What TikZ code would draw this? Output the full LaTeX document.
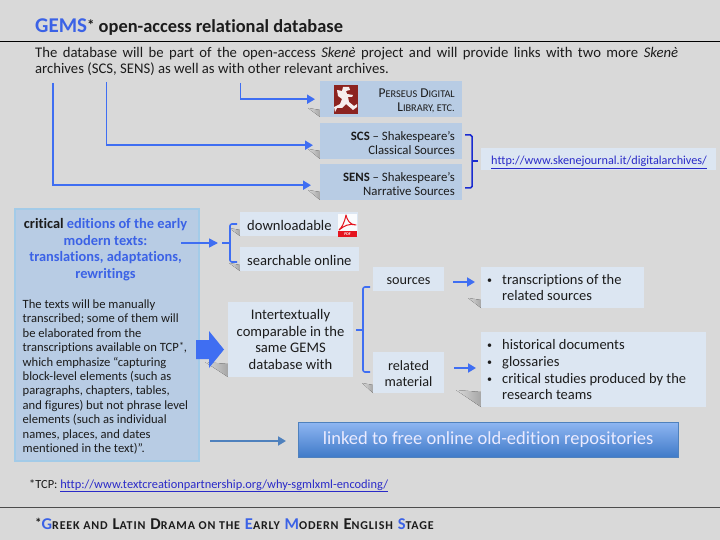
\documentclass[tikz,border=0pt]{standalone}
\usepackage{fontspec}
\setmainfont{Carlito}[Ligatures={NoCommon,TeX}]
\usetikzlibrary{arrows.meta,calc}
\definecolor{bgc}{HTML}{D9D9D9}
\definecolor{txt}{HTML}{1C1C1C}
\definecolor{blu}{HTML}{3B62E6}
\definecolor{arr}{HTML}{3F6EF2}
\definecolor{midb}{HTML}{B8CCE4}
\definecolor{paleb}{HTML}{DCE6F2}
\definecolor{edgeb}{HTML}{A3CBE8}
\definecolor{steel}{HTML}{4F81BD}
\definecolor{navy}{HTML}{1A2BD0}
\definecolor{lnk}{HTML}{2A2AC8}
\definecolor{pred}{HTML}{8C2320}
\definecolor{pdfr}{HTML}{E5141E}
\definecolor{lktop}{HTML}{8FB6F2}
\definecolor{lkbot}{HTML}{3F7AC8}
\definecolor{shad}{HTML}{A6A6A6}
\newcommand{\smc}[1]{{\fontsize{10.3}{10}\selectfont #1}}
\newcommand{\stl}[1]{{\fontsize{12}{10}\selectfont\bfseries #1}}
\newcommand{\bul}{\makebox[15pt][l]{\raisebox{1pt}{\fontsize{10}{10}\selectfont\textbullet}}}
\tikzset{
  x=1pt,y=-1pt,
  midbox/.style={fill=midb,draw=none,inner sep=0,anchor=north west},
  palebox/.style={fill=paleb,draw=none,inner sep=0,anchor=north west},
  conn/.style={draw=arr,line width=1.9pt,-{Triangle[length=8pt,width=9pt]}},
  brace/.style={draw=arr,line width=1.6pt,rounded corners=2pt},
  lab/.style={text=txt,inner sep=0,font=\fontsize{14}{16}\selectfont},
  wedge/.style={left color=bgc,right color=shad,draw=none},
}
\begin{document}
\begin{tikzpicture}
\useasboundingbox (0,0) rectangle (720,540);
\fill[bgc] (0,0) rectangle (720,540);
% header
\coordinate (hl) at (0,41.5); \coordinate (hr) at (720,41.5);
\draw[black,line width=.8pt] (hl) -- (hr);
\node[anchor=base west,inner sep=0,text=txt,font=\fontsize{18.4}{20}\selectfont\bfseries] (title) at (35,32.5)
  {\textcolor{blu}{\fontsize{21}{20}\selectfont GEMS}\raisebox{2pt}{\fontsize{15}{15}\selectfont *} open-access relational database};
\node[anchor=north west,inner sep=0,text=txt,text width=643pt,align=justify,font=\fontsize{14.7}{16.2}\selectfont] (intro) at (35,47)
  {The database will be part of the open-access \textit{Skenè} project and will provide links with two more \textit{Skenè}\linebreak archives (SCS, SENS) as well as with other relevant archives.};
% shadows
\fill[wedge] (308,108) -- (320,110) -- (320,117) -- cycle;
\fill[wedge] (308,149) -- (320,151) -- (320,159) -- cycle;
\fill[wedge] (308,190) -- (320,192) -- (320,200) -- cycle;
\fill[wedge] (229,228) -- (240,230) -- (240,236) -- cycle;
\fill[wedge] (229,263) -- (240,265) -- (240,271) -- cycle;
\fill[wedge] (205,362) -- (228,364) -- (228,377) -- cycle;
\fill[wedge] (362,383) -- (373,385) -- (373,393) -- cycle;
\fill[wedge] (468,298) -- (481,300) -- (481,308) -- cycle;
\fill[wedge] (456,390) -- (481,392) -- (481,407) -- cycle;
% archive boxes
\node[midbox,minimum width=142pt,minimum height=36pt] (pers) at (320,81) {};
\node[midbox,minimum width=142pt,minimum height=36pt] (scs) at (320,123) {};
\node[midbox,minimum width=142pt,minimum height=36pt] (sens) at (320,164) {};
\node[palebox,minimum width=235pt,minimum height=22pt] (url) at (481,148) {};
\node[anchor=base east,inner sep=0,text=txt,align=right,font=\fontsize{13.5}{14}\selectfont] (perst) at (455,98) {P\smc{ERSEUS} D\smc{IGITAL}};
\node[anchor=base east,inner sep=0,text=txt,align=right,font=\fontsize{13.5}{14}\selectfont] (perst2) at (455,112) {L\smc{IBRARY, ETC.}};
\node[anchor=base east,inner sep=0,text=txt,font=\fontsize{12.8}{14}\selectfont] (scs1) at (455,140.5) {\textbf{SCS} – Shakespeare’s};
\node[anchor=base east,inner sep=0,text=txt,font=\fontsize{12.8}{14}\selectfont] (scs2) at (455,154.5) {Classical Sources};
\node[anchor=base east,inner sep=0,text=txt,font=\fontsize{12.8}{14}\selectfont] (sens1) at (455,181.5) {\textbf{SENS} – Shakespeare’s};
\node[anchor=base east,inner sep=0,text=txt,font=\fontsize{12.8}{14}\selectfont] (sens2) at (455,195.5) {Narrative Sources};
\node[anchor=base west,inner sep=0,text=lnk,font=\fontsize{12.2}{14}\selectfont] (urlt) at (491,165) {\underline{http://www.skenejournal.it/digitalarchives/}};
% Perseus icon
\fill[pred] (333.5,85) rectangle (358,114.5);
\fill[white!92!pred] (343,87) -- (349,87) -- (350,90) -- (346,91) -- (347,94) -- (353,95) -- (352,97) -- (348,97) -- (349,102)
  -- (354,106) -- (357,104) -- (357,107) -- (353,110) -- (346,104) -- (342,108) -- (337,108) -- (335,112) -- (334,107) -- (340,104) -- (342,99) -- (338,96) -- (337,90) -- (342,91) -- cycle;
% connectors from the intro text
\coordinate (a1) at (240.5,83); \coordinate (a2) at (106.5,82); \coordinate (a3) at (53,83);
\draw[conn] (a1) |- ([xshift=-5pt,yshift=0pt]pers.west);
\draw[conn] (a2) |- ([xshift=-7pt,yshift=-4pt]scs.west);
\draw[conn] (a3) |- ([xshift=-9pt,yshift=-3pt]sens.west);
% navy bracket
\coordinate (b1) at (465,135); \coordinate (b2) at (472,135); \coordinate (b3) at (472,188); \coordinate (b4) at (465,188);
\coordinate (bm) at (472,161); \coordinate (bn) at (478,161);
\draw[draw=navy,line width=1.5pt,rounded corners=1.5pt] (b1) -- (b2) -- (b3) -- (b4);
\draw[draw=navy,line width=1.5pt] (bm) -- (bn);
% main box
\node[midbox,draw=edgeb,line width=2pt,minimum width=184pt,minimum height=252pt] (main) at (14,208) {};
\node[anchor=north,inner sep=0,text=blu,align=center,font=\fontsize{14.4}{16.7}\selectfont\bfseries] (mainh) at (105.5,218)
  {\textcolor{txt}{critical} editions of the early\\modern texts:\\translations, adaptations,\\rewritings};
\node[anchor=north west,inner sep=0,text=txt,align=left,font=\fontsize{12.6}{14.4}\selectfont] (mainb) at (22.5,299.5)
  {The texts will be manually\\transcribed; some of them will\\be elaborated from the\\transcriptions available on TCP\raisebox{2.5pt}{\fontsize{10}{10}\selectfont *},\\which emphasize “capturing\\block-level elements (such as\\paragraphs, chapters, tables,\\and figures) but not phrase level\\elements (such as individual\\names, places, and dates\\mentioned in the text)”.};
% big arrow
\fill[arr] (196,340) -- (209,340) -- (209,331) -- (224,349.5) -- (209,368) -- (209,359) -- (196,359) -- cycle;
% right column
\node[palebox,minimum width=118pt,minimum height=24pt] (dl) at (240,212) {};
\node[palebox,minimum width=119pt,minimum height=24pt] (so) at (240,247) {};
\node[palebox,minimum width=125pt,minimum height=75pt] (ic) at (228,302) {};
\node[palebox,minimum width=71pt,minimum height=24pt] (src) at (373,267) {};
\node[palebox,minimum width=71pt,minimum height=41pt] (rel) at (373,352) {};
\node[palebox,minimum width=163pt,minimum height=41pt] (tr) at (481,267) {};
\node[palebox,minimum width=225pt,minimum height=75pt] (hist) at (481,332) {};
\node[lab,anchor=base west,font=\fontsize{14.6}{16}\selectfont] (dlt) at (247,230) {downloadable};
\node[lab,anchor=base west,font=\fontsize{14.6}{16}\selectfont] (sot) at (247,265) {searchable online};
\node[lab,align=center,font=\fontsize{14.6}{16.6}\selectfont] (ict) at (290.5,339.5) {Intertextually\\comparable in the\\same GEMS\\database with};
\node[lab,font=\fontsize{14.2}{16}\selectfont] (srct) at (408.5,281) {sources};
\node[lab,align=center,font=\fontsize{14.2}{16}\selectfont] (relt) at (408.5,373.5) {related\\material};
\node[lab,anchor=north west,align=left,font=\fontsize{14.5}{16.2}\selectfont] (trt) at (487,274) {\bul transcriptions of the\\\hspace*{15pt}related sources};
\node[lab,anchor=north west,align=left,font=\fontsize{14.5}{16.7}\selectfont] (histt) at (487,339.5) {\bul historical documents\\\bul glossaries\\\bul critical studies produced by the\\\hspace*{15pt}research teams};
% PDF icon
\fill[white!85!paleb] (338,214) rectangle (357,237);
\fill[pdfr] (338,231.5) rectangle (357,237);
\node[inner sep=0,text=white,font=\fontsize{4}{4}\selectfont\bfseries] (pdft) at (347.5,234.3) {PDF};
\draw[pdfr,line width=1pt,line join=round] (346,215) .. controls (344,224) and (342,227) .. (339,230) .. controls (344,226) and (349,223) .. (356,225) .. controls (350,225) and (347,220) .. (346,215) -- cycle;
% brackets and small connectors
\coordinate (c0) at (222,243); \coordinate (c1) at (230,243); \coordinate (c2) at (237,224); \coordinate (c3) at (237,262);
\draw[brace] (c2) -- (230,224) -- (230,262) -- (c3);
\draw[brace] (c0) -- (c1);
\coordinate (d0) at (181,243); \coordinate (d1) at (218,243);
\draw[draw=arr,line width=1.6pt,-{Triangle[length=9pt,width=9pt]}] (d0) -- (d1);
\coordinate (e0) at (356,330); \coordinate (e1) at (363,330); \coordinate (e2) at (370,287); \coordinate (e3) at (370,372);
\draw[brace] (e2) -- (363,287) -- (363,372) -- (e3);
\draw[brace] (e0) -- (e1);
\coordinate (f0) at (453,282); \coordinate (f1) at (475,282);
\draw[conn] (f0) -- (f1);
\coordinate (g0) at (454,368); \coordinate (g1) at (476,368);
\draw[conn] (g0) -- (g1);
% linked box
\node[anchor=north west,inner sep=0,minimum width=380pt,minimum height=35pt,top color=lktop,bottom color=lkbot,draw=steel,line width=.5pt,text=white!92!blue,font=\fontsize{18.5}{20}\selectfont] (lk) at (298,422) {linked to free online old-edition repositories};
\coordinate (h0) at (210,441); \coordinate (h1) at (286,441);
\draw[draw=steel,line width=1.9pt,-{Triangle[length=8pt,width=9pt]}] (h0) -- (h1);
% footer
\node[anchor=base west,inner sep=0,text=txt,font=\fontsize{12.4}{14}\selectfont] (tcp) at (29,488) {*TCP: \textcolor{lnk}{\underline{http://www.textcreationpartnership.org/why-sgmlxml-encoding/}}};
\coordinate (fl) at (0,507.5); \coordinate (fr) at (720,507.5);
\draw[draw=black!70,line width=.8pt] (fl) -- (fr);
\node[anchor=base west,inner sep=0,text=txt,font=\fontsize{16.5}{16}\selectfont\bfseries\addfontfeature{LetterSpace=7}] (foot) at (35,529.5)
  {\raisebox{2pt}{\fontsize{13}{13}\selectfont *}\textcolor{blu}{G}\stl{REEK AND} L\stl{ATIN} D\stl{RAMA ON THE} \textcolor{blu}{E}\stl{ARLY} \textcolor{blu}{M}\stl{ODERN} E\stl{NGLISH} \textcolor{blu}{S}\stl{TAGE}};
\end{tikzpicture}
\end{document}
